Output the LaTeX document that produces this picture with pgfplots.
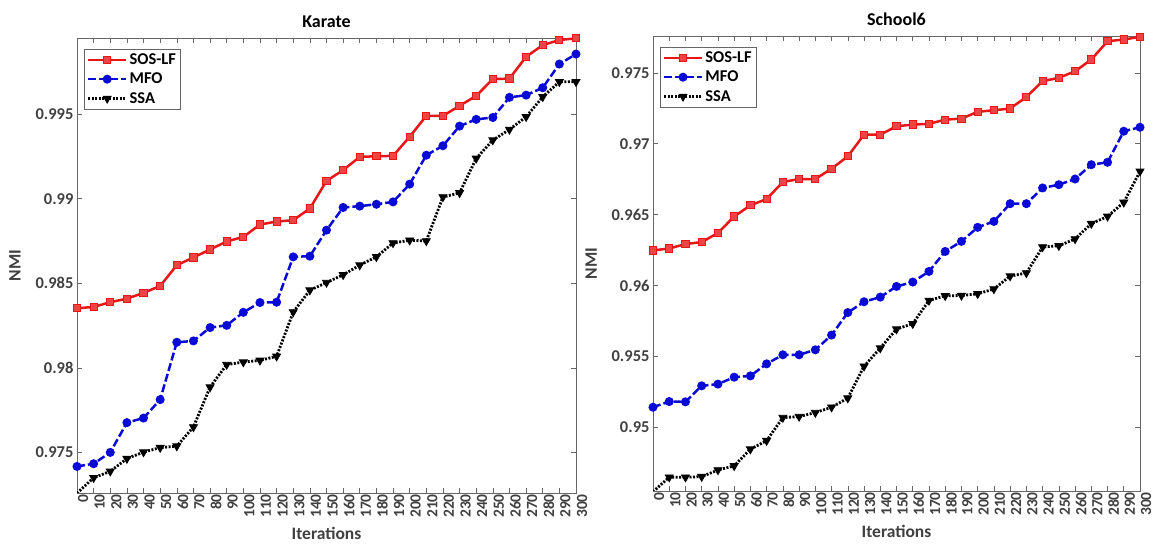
\documentclass[border=0pt]{standalone}
\usepackage{pgfplots}
\pgfplotsset{compat=1.18}
\usepackage{fontspec}
\setmainfont{Carlito}
\definecolor{myred}{RGB}{232,22,22}
\definecolor{myblue}{RGB}{10,10,215}
\definecolor{tickgray}{RGB}{64,64,64}

\pgfplotsset{
 common/.style={
  scale only axis, width=499pt, height=455pt, xmin=0, xmax=300,
  xtick={0,10,...,300},
  /pgf/number format/assume math mode=true,
  x tick label style={rotate=90, anchor=east, font=\bfseries\fontsize{15.5}{15.5}\selectfont, text=tickgray, inner sep=1pt, yshift=-6pt},
  y tick label style={font=\bfseries\fontsize{16.5}{16.5}\selectfont, text=tickgray},
  scaled y ticks=false,
  yticklabel style={/pgf/number format/fixed, /pgf/number format/precision=3},
  tick align=inside, major tick length=5pt,
  axis line style={black!60, line width=0.8pt},
  tick style={black!60, line width=0.6pt},
  title style={font=\bfseries\fontsize{18}{18}\selectfont, yshift=1pt},
  xlabel={Iterations}, ylabel={NMI},
  label style={font=\bfseries\fontsize{17.5}{17.5}\selectfont, text=tickgray},
  xlabel style={yshift=-5pt},
  ylabel style={yshift=8pt},
  legend style={at={(0.014,0.976)}, anchor=north west, draw=black!60, line width=0.6pt,
     font=\bfseries\fontsize{16.5}{16.5}\selectfont, row sep=3pt, inner sep=2.5pt},
  legend cell align=left,
  legend image code/.code={\draw[mark repeat=2, mark phase=2, #1] plot coordinates {(0pt,0pt) (19pt,0pt) (38pt,0pt)};},
 },
 sos/.style={myred, line width=2.5pt, mark=square*, mark size=3.6pt, mark options={solid, draw=myred, fill=myred!80!white, line width=1pt}},
 mfo/.style={myblue, line width=2.5pt, dash pattern=on 8pt off 3pt, mark=*, mark size=3.2pt, mark options={solid, fill=myblue}},
 ssa/.style={black, line width=2.8pt, dash pattern=on 2pt off 1.5pt, mark=triangle*, mark size=4.6pt, mark options={solid, rotate=180, fill=black, line width=0.8pt}},
}

\pgfplotstableread{
x sos mfo ssa
0 0.98352 0.97417 0.97259
10 0.98360 0.97433 0.97350
20 0.98388 0.97500 0.97388
30 0.98409 0.97676 0.97463
40 0.98443 0.97703 0.97502
50 0.98484 0.97812 0.97528
60 0.98607 0.98151 0.97537
70 0.98652 0.98159 0.97650
80 0.98700 0.98238 0.97886
90 0.98747 0.98251 0.98019
100 0.98774 0.98328 0.98034
110 0.98847 0.98386 0.98044
120 0.98865 0.98388 0.98068
130 0.98873 0.98656 0.98330
140 0.98942 0.98660 0.98459
150 0.99105 0.98814 0.98504
160 0.99169 0.98948 0.98550
170 0.99247 0.98956 0.98607
180 0.99251 0.98967 0.98656
190 0.99253 0.98981 0.98738
200 0.99366 0.99086 0.98754
210 0.99490 0.99257 0.98750
220 0.99490 0.99313 0.99010
230 0.99549 0.99429 0.99034
240 0.99608 0.99469 0.99238
250 0.99707 0.99480 0.99346
260 0.99710 0.99599 0.99409
270 0.99839 0.99612 0.99484
280 0.99908 0.99656 0.99602
290 0.99938 0.99796 0.99691
300 0.99948 0.99855 0.99691
}\karate

\pgfplotstableread{
x sos mfo ssa
0 0.96247 0.95141 0.94545
10 0.96261 0.95181 0.94647
20 0.96292 0.95179 0.94647
30 0.96306 0.95292 0.94651
40 0.96370 0.95304 0.94698
50 0.96487 0.95353 0.94727
60 0.96565 0.95362 0.94845
70 0.96610 0.95447 0.94905
80 0.96730 0.95511 0.95068
90 0.96751 0.95511 0.95075
100 0.96751 0.95546 0.95103
110 0.96824 0.95650 0.95141
120 0.96911 0.95809 0.95205
130 0.97064 0.95885 0.95430
140 0.97064 0.95918 0.95558
150 0.97123 0.95993 0.95692
160 0.97135 0.96024 0.95730
170 0.97140 0.96099 0.95894
180 0.97170 0.96240 0.95927
190 0.97177 0.96311 0.95929
200 0.97225 0.96410 0.95941
210 0.97236 0.96452 0.95975
220 0.97248 0.96577 0.96066
230 0.97330 0.96577 0.96088
240 0.97441 0.96688 0.96271
250 0.97465 0.96711 0.96280
260 0.97511 0.96751 0.96328
270 0.97594 0.96852 0.96436
280 0.97723 0.96869 0.96487
290 0.97735 0.97088 0.96586
300 0.97754 0.97116 0.96805
}\school

\begin{document}
\begin{tikzpicture}
\useasboundingbox (0,0) rectangle (1153pt,545pt);
\begin{axis}[common, at={(77pt,52pt)}, anchor=south west,
  title={Karate}, ymin=0.9726, ymax=0.9995,
  ytick={0.975,0.98,0.985,0.99,0.995}]
\addplot[sos] table[x=x,y=sos]{\karate};
\addplot[mfo] table[x=x,y=mfo]{\karate};
\addplot[ssa] table[x=x,y=ssa]{\karate};
\legend{SOS-LF,MFO,SSA}
\end{axis}
\begin{axis}[common, at={(653pt,54pt)}, anchor=south west, width=487pt,
  title={School6}, ymin=0.9455, ymax=0.9776,
  ytick={0.95,0.955,0.96,0.965,0.97,0.975}]
\addplot[sos] table[x=x,y=sos]{\school};
\addplot[mfo] table[x=x,y=mfo]{\school};
\addplot[ssa] table[x=x,y=ssa]{\school};
\legend{SOS-LF,MFO,SSA}
\end{axis}
\end{tikzpicture}
\end{document}
